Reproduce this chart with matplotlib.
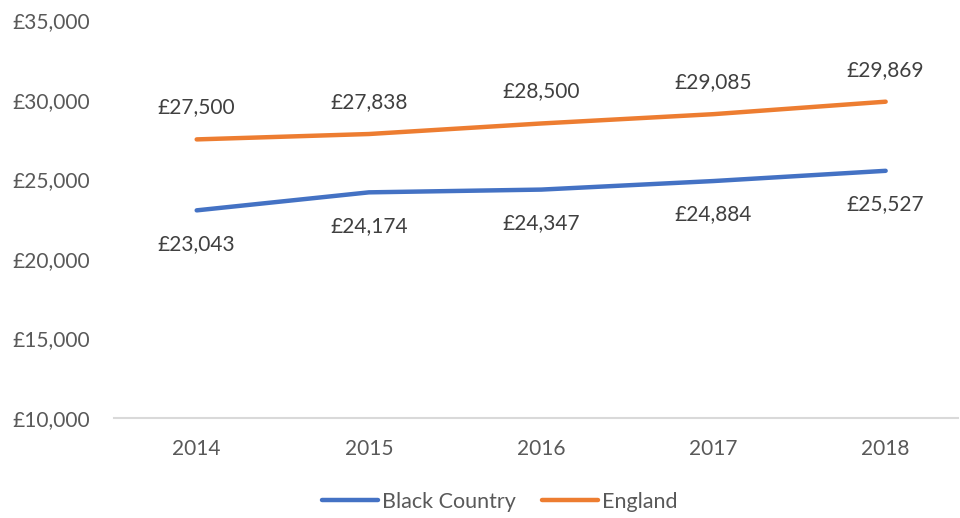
import matplotlib.pyplot as plt
from matplotlib.ticker import FuncFormatter

years = ["2014", "2015", "2016", "2017", "2018"]
black_country = [23043, 24174, 24347, 24884, 25527]
england = [27500, 27838, 28500, 29085, 29869]

plt.rcParams['font.family'] = ['Lato', 'DejaVu Sans']
grey = '#595959'

fig = plt.figure(figsize=(9.6, 5.18), dpi=100)
ax = fig.add_axes([114 / 960, 100 / 518, (958 - 114) / 960, 398 / 518])

x = range(len(years))
ax.plot(x, black_country, color='#4472C4', lw=3.2, solid_capstyle='round', label='Black Country')
ax.plot(x, england, color='#ED7D31', lw=3.2, solid_capstyle='round', label='England')

for i, v in enumerate(black_country):
    ax.annotate(f"£{v:,}", (i, v), xytext=(0, -24), textcoords='offset points',
                ha='center', va='center', fontsize=15, color='#404040')
for i, v in enumerate(england):
    ax.annotate(f"£{v:,}", (i, v), xytext=(0, 23), textcoords='offset points',
                ha='center', va='center', fontsize=15, color='#404040')

ax.set_xlim(-0.48, 4.42)
ax.set_ylim(10000, 35000)
ax.set_yticks(range(10000, 35001, 5000))
ax.yaxis.set_major_formatter(FuncFormatter(lambda v, p: f"£{int(v):,}"))
ax.set_xticks(list(x))
ax.set_xticklabels(years)
ax.tick_params(axis='both', length=0, labelsize=15, colors=grey)
ax.tick_params(axis='x', pad=15)
ax.tick_params(axis='y', pad=17)

for s in ['top', 'right', 'left']:
    ax.spines[s].set_visible(False)
ax.spines['bottom'].set_color('#D9D9D9')
ax.spines['bottom'].set_linewidth(1.5)

fig.legend(loc='center', bbox_to_anchor=(500 / 960, 1 - 502 / 518), ncol=2, frameon=False,
           fontsize=15.5, handlelength=2.6, handletextpad=0.2, columnspacing=1.2, labelcolor=grey)

fig.savefig('out.png', dpi=100)
